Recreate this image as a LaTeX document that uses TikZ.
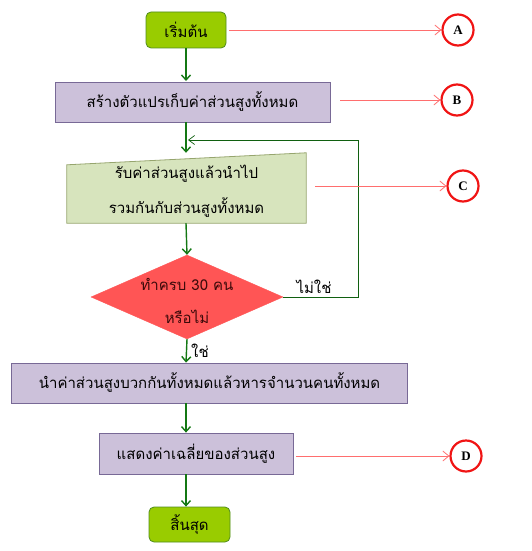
\documentclass[tikz,border=0pt]{standalone}
\usepackage{fontspec}
\setmainfont{Liberation Serif}
\newfontfamily\thaifont[Script=Thai]{Loma}
\usetikzlibrary{arrows.meta,shapes.geometric,backgrounds,calc}
\definecolor{startfill}{RGB}{153,204,0}
\definecolor{startdraw}{RGB}{80,140,30}
\definecolor{lavfill}{RGB}{204,193,218}
\definecolor{lavdraw}{RGB}{120,105,150}
\definecolor{inpfill}{RGB}{215,228,189}
\definecolor{inpdraw}{RGB}{150,165,110}
\definecolor{decfill}{RGB}{255,85,85}
\definecolor{dectext}{RGB}{60,10,10}
\definecolor{flowgreen}{RGB}{20,120,20}
\definecolor{pointred}{RGB}{255,110,110}
\definecolor{circred}{RGB}{240,20,20}
\tikzset{
  x=1pt,y=-1pt,
  thai/.style={font=\thaifont\fontsize{15}{19}\selectfont},
  termbox/.style={thai,draw=startdraw,fill=startfill,rounded corners=5pt,line width=0.8pt,inner sep=0pt},
  procbox/.style={thai,draw=lavdraw,fill=lavfill,line width=0.8pt,inner sep=0pt},
  decbox/.style={diamond,fill=decfill,draw=decfill,inner sep=0pt},
  dectxt/.style={thai,align=center,text=dectext,inner sep=0pt},
  flow/.style={draw=flowgreen,line width=1.4pt,-{Straight Barb[length=5pt,width=9pt,line width=1.4pt]}},
  loopline/.style={draw=flowgreen!80!black,line width=0.7pt,-{Straight Barb[length=6pt,width=9pt,line width=0.7pt]}},
  pointer/.style={draw=pointred,line width=0.8pt,-{Straight Barb[length=6pt,width=10pt,line width=0.8pt]}},
  tag/.style={circle,draw=circred,line width=2.2pt,fill=white,minimum width=31pt,minimum height=31pt,inner sep=0pt,font=\bfseries\fontsize{13}{15}\selectfont},
  lbl/.style={thai,inner sep=1pt}
}
\begin{document}
\begin{tikzpicture}
\useasboundingbox (0,0) rectangle (531,551);
% nodes
\node[termbox,minimum width=80pt,minimum height=36pt] (start) at (186,30) {เริ่มต้น};
\node[procbox,minimum width=275pt,minimum height=40pt] (init) at (192.5,102) {สร้างตัวแปรเก็บค่าส่วนสูงทั้งหมด};
\node[thai,minimum width=239pt,minimum height=70pt,inner sep=0pt,align=center] (input) at (186.5,188) {\rule{0pt}{20pt}รับค่าส่วนสูงแล้วนำไป\\[14pt]รวมกันกับส่วนสูงทั้งหมด};
\begin{scope}[on background layer]
\draw[draw=inpdraw,fill=inpfill,line width=0.8pt] (input.south west) -- (input.south east) -- (input.north east) -- ($(input.north west)+(0,12)$) -- cycle;
\end{scope}
\node[decbox,minimum width=192pt,minimum height=84pt] (dec) at (187,297) {};
\node[dectxt] (dect) at (187,301) {ทำครบ 30 คน\\[14pt]หรือไม่};
\node[procbox,minimum width=396pt,minimum height=40pt] (calc) at (209.5,383) {นำค่าส่วนสูงบวกกันทั้งหมดแล้วหารจำนวนคนทั้งหมด};
\node[procbox,minimum width=194pt,minimum height=41pt] (show) at (196,453.5) {แสดงค่าเฉลี่ยของส่วนสูง};
\node[termbox,minimum width=81pt,minimum height=35pt] (stop) at (189.5,524.5) {สิ้นสุด};
% tags
\node[tag] (A) at (458,30) {A};
\node[tag] (B) at (457,100) {B};
\node[tag] (C) at (463,186) {C};
\node[tag] (D) at (466,456) {D};
% loop coordinates
\coordinate (lc1) at (358,297);
\coordinate (lc2) at (358,140);
\coordinate (lc3) at (188,140);
% labels
\node[lbl,anchor=south] (no) at (314,295) {ไม่ใช่};
\node[lbl,anchor=west] (yes) at (190,351) {ใช่};
% flow
\draw[flow] (start.south -| 186,0) -- (186,81);
\draw[flow] (186,122) -- (input.north -| 186,0);
\draw[flow] (input.south -| 186,0) -- (dec.north);
\draw[flow] (dec.south) -- (calc.north -| 186,0);
\draw[flow] (calc.south -| 186,0) -- (show.north -| 186,0);
\draw[flow] (show.south -| 186,0) -- (stop.north -| 186,0);
\draw[loopline] (dec.east) -- (lc1) -- (lc2) -- (lc3);
% pointers
\draw[pointer] (start.east -| 229,0) -- (A.west);
\draw[pointer] (B.west -| 340,0) -- (B.west);
\draw[pointer] (C.west -| 315,0) -- (C.west);
\draw[pointer] (D.west -| 296,0) -- (D.west);
\end{tikzpicture}
\end{document}
